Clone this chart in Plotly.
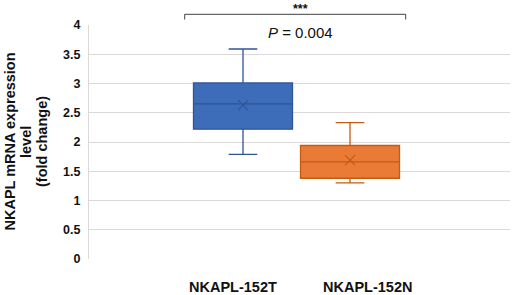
import plotly.graph_objects as go

groups = ["NKAPL-152T", "NKAPL-152N"]
positions = [1, 2]
q1 = [2.22, 1.38]
median = [2.65, 1.66]
q3 = [3.01, 1.94]
lower = [1.79, 1.30]
upper = [3.59, 2.33]
means = [2.63, 1.69]
fills = ["#3D6DB9", "#E97B36"]
borders = ["#2F5597", "#C55A11"]
y_ticks = [0, 0.5, 1, 1.5, 2, 2.5, 3, 3.5, 4]
y_title_lines = ["NKAPL mRNA expression", "level", "(fold change)"]
p_text = "<i>P</i> = 0.004"
sig_text = "***"

fig = go.Figure()
for i in range(2):
    fig.add_trace(go.Box(
        x=[positions[i]], q1=[q1[i]], median=[median[i]], q3=[q3[i]],
        lowerfence=[lower[i]], upperfence=[upper[i]],
        width=0.925, whiskerwidth=0.29,
        fillcolor=fills[i], line=dict(color=borders[i], width=1.3),
        showlegend=False, hoverinfo="skip",
    ))
    fig.add_trace(go.Scatter(
        x=[positions[i]], y=[means[i]], mode="markers",
        marker=dict(symbol="x-thin", size=10, line=dict(color=borders[i], width=1.2)),
        showlegend=False, hoverinfo="skip",
    ))

fig.update_layout(
    width=512, height=295,
    margin=dict(l=89, r=2, t=25, b=36),
    plot_bgcolor="white", paper_bgcolor="white",
    font=dict(family="Liberation Sans, Arial, sans-serif", color="#000"),
    xaxis=dict(range=[-0.439, 3.495], showticklabels=False, showgrid=False,
               zeroline=False, showline=False, fixedrange=True),
    yaxis=dict(range=[0, 4], tickvals=y_ticks, ticktext=[f"<b>{v:g}</b>" for v in y_ticks],
               tickfont=dict(size=12.5, color="#111"), ticks="", ticklabelstandoff=5,
               showgrid=True, gridcolor="#D9D9D9", gridwidth=1,
               zeroline=False, showline=True, linecolor="#D9D9D9", linewidth=1),
)

# y-axis title, one annotation per line
for line, px in zip(y_title_lines, [9.5, 26, 42]):
    fig.add_annotation(text="<b>" + line + "</b>", xref="paper", yref="paper",
                       x=(px - 89) / 421, y=(259 - 142) / 234, xanchor="center", yanchor="middle",
                       textangle=-90, showarrow=False, font=dict(size=14.5, color="#111"))

# category labels
for lab, px in zip(groups, [232.5, 367]):
    fig.add_annotation(text="<b>" + lab + "</b>", xref="paper", yref="paper",
                       x=(px - 89) / 421, y=(259 - 287) / 234, xanchor="center", yanchor="middle",
                       showarrow=False, font=dict(size=14.5, color="#111"))

# significance bracket
x0, x1 = (184.7 - 89) / 421, (405.7 - 89) / 421
ytop, ybot = (259 - 14.3) / 234, (259 - 19.5) / 234
fig.add_shape(type="path", xref="paper", yref="paper",
              path=f"M {x0} {ybot} L {x0} {ytop} L {x1} {ytop} L {x1} {ybot}",
              line=dict(color="#404040", width=1))
fig.add_annotation(text="<b>" + sig_text + "</b>", xref="paper", yref="paper",
                   x=(300 - 89) / 421, y=(259 - 8.5) / 234, xanchor="center", yanchor="middle",
                   showarrow=False, font=dict(size=12.5, color="#111"))
fig.add_annotation(text=p_text, xref="paper", yref="paper",
                   x=(300 - 89) / 421, y=(259 - 32) / 234, xanchor="center", yanchor="middle",
                   showarrow=False, font=dict(size=15, color="#111"))

fig.write_html("out.html", config={"displayModeBar": False},
               post_script="document.body.style.margin='0';")
